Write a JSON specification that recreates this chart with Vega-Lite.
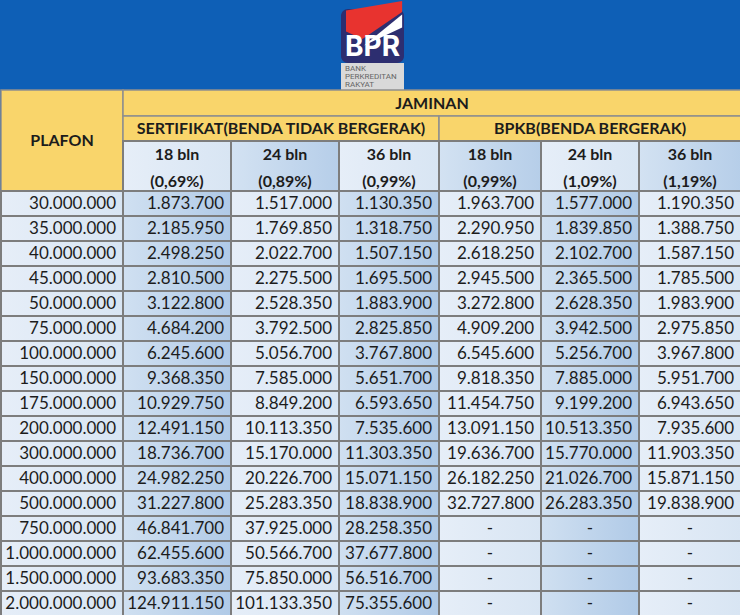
{
  "$schema": "https://vega.github.io/schema/vega-lite/v6.json",
  "width": 740,
  "height": 615,
  "padding": 0,
  "autosize": {"type": "fit", "contains": "padding"},
  "background": "#0e5fb6",
  "config": {"view": {"stroke": null}, "axis": {"disable": true}, "text": {"font": "Lato", "color": "#1c1c1c"}},
  "datasets": {
    "table": [
      {"plafon": "30.000.000", "s18": "1.873.700", "s24": "1.517.000", "s36": "1.130.350", "b18": "1.963.700", "b24": "1.577.000", "b36": "1.190.350"},
      {"plafon": "35.000.000", "s18": "2.185.950", "s24": "1.769.850", "s36": "1.318.750", "b18": "2.290.950", "b24": "1.839.850", "b36": "1.388.750"},
      {"plafon": "40.000.000", "s18": "2.498.250", "s24": "2.022.700", "s36": "1.507.150", "b18": "2.618.250", "b24": "2.102.700", "b36": "1.587.150"},
      {"plafon": "45.000.000", "s18": "2.810.500", "s24": "2.275.500", "s36": "1.695.500", "b18": "2.945.500", "b24": "2.365.500", "b36": "1.785.500"},
      {"plafon": "50.000.000", "s18": "3.122.800", "s24": "2.528.350", "s36": "1.883.900", "b18": "3.272.800", "b24": "2.628.350", "b36": "1.983.900"},
      {"plafon": "75.000.000", "s18": "4.684.200", "s24": "3.792.500", "s36": "2.825.850", "b18": "4.909.200", "b24": "3.942.500", "b36": "2.975.850"},
      {"plafon": "100.000.000", "s18": "6.245.600", "s24": "5.056.700", "s36": "3.767.800", "b18": "6.545.600", "b24": "5.256.700", "b36": "3.967.800"},
      {"plafon": "150.000.000", "s18": "9.368.350", "s24": "7.585.000", "s36": "5.651.700", "b18": "9.818.350", "b24": "7.885.000", "b36": "5.951.700"},
      {"plafon": "175.000.000", "s18": "10.929.750", "s24": "8.849.200", "s36": "6.593.650", "b18": "11.454.750", "b24": "9.199.200", "b36": "6.943.650"},
      {"plafon": "200.000.000", "s18": "12.491.150", "s24": "10.113.350", "s36": "7.535.600", "b18": "13.091.150", "b24": "10.513.350", "b36": "7.935.600"},
      {"plafon": "300.000.000", "s18": "18.736.700", "s24": "15.170.000", "s36": "11.303.350", "b18": "19.636.700", "b24": "15.770.000", "b36": "11.903.350"},
      {"plafon": "400.000.000", "s18": "24.982.250", "s24": "20.226.700", "s36": "15.071.150", "b18": "26.182.250", "b24": "21.026.700", "b36": "15.871.150"},
      {"plafon": "500.000.000", "s18": "31.227.800", "s24": "25.283.350", "s36": "18.838.900", "b18": "32.727.800", "b24": "26.283.350", "b36": "19.838.900"},
      {"plafon": "750.000.000", "s18": "46.841.700", "s24": "37.925.000", "s36": "28.258.350", "b18": "-", "b24": "-", "b36": "-"},
      {"plafon": "1.000.000.000", "s18": "62.455.600", "s24": "50.566.700", "s36": "37.677.800", "b18": "-", "b24": "-", "b36": "-"},
      {"plafon": "1.500.000.000", "s18": "93.683.350", "s24": "75.850.000", "s36": "56.516.700", "b18": "-", "b24": "-", "b36": "-"},
      {"plafon": "2.000.000.000", "s18": "124.911.150", "s24": "101.133.350", "s36": "75.355.600", "b18": "-", "b24": "-", "b36": "-"}
    ],
    "cols": [
      {"key": "plafon", "col": 0, "col2": 1, "mid": 0.5},
      {"key": "s18", "col": 1, "col2": 2, "mid": 1.5},
      {"key": "s24", "col": 2, "col2": 3, "mid": 2.5},
      {"key": "s36", "col": 3, "col2": 4, "mid": 3.5},
      {"key": "b18", "col": 4, "col2": 5, "mid": 4.5},
      {"key": "b24", "col": 5, "col2": 6, "mid": 5.5},
      {"key": "b36", "col": 6, "col2": 7, "mid": 6.5}
    ],
    "heads": [
      {"key": "s18", "label": "18 bln\n(0,69%)"},
      {"key": "s24", "label": "24 bln\n(0,89%)"},
      {"key": "s36", "label": "36 bln\n(0,99%)"},
      {"key": "b18", "label": "18 bln\n(0,99%)"},
      {"key": "b24", "label": "24 bln\n(1,09%)"},
      {"key": "b36", "label": "36 bln\n(1,19%)"}
    ]
  },
  "layer": [
    {
      "data": {"values": [{"name": "logo"}]},
      "layer": [
        {
          "mark": {"type": "rect", "color": "#2d2e70", "cornerRadius": 7},
          "encoding": {
            "x": {"datum": 3.02, "type": "quantitative", "scale": {"domain": [0, 1, 2, 3, 4, 5, 6, 7], "range": [0, 122, 230, 338, 438, 540, 638, 740], "nice": false, "zero": false}},
            "x2": {"datum": 3.65},
            "y": {"datum": -10.6, "type": "quantitative", "scale": {"domain": [-11.4, -2.5, -1.5, -0.5, 0.5, 17.5], "range": [0, 89, 115, 140, 190, 615], "nice": false, "zero": false}},
            "y2": {"datum": -5.2}
          }
        },
        {
          "mark": {"type": "rect", "color": "#d9d9d9"},
          "encoding": {
            "x": {"datum": 3.02, "type": "quantitative", "scale": {"domain": [0, 1, 2, 3, 4, 5, 6, 7], "range": [0, 122, 230, 338, 438, 540, 638, 740], "nice": false, "zero": false}},
            "x2": {"datum": 3.65},
            "y": {"datum": -5.2, "type": "quantitative", "scale": {"domain": [-11.4, -2.5, -1.5, -0.5, 0.5, 17.5], "range": [0, 89, 115, 140, 190, 615], "nice": false, "zero": false}},
            "y2": {"datum": -2.5}
          }
        },
        {
          "mark": {"type": "point", "filled": true, "opacity": 1, "strokeWidth": 0, "color": "#e8332f", "size": 3600, "shape": "M-0.9,-0.35L0.97,-0.67L0.97,-0.3L-0.35,0.6L-0.9,0.35Z"},
          "encoding": {
            "x": {"datum": 3.34, "type": "quantitative", "scale": {"domain": [0, 1, 2, 3, 4, 5, 6, 7], "range": [0, 122, 230, 338, 438, 540, 638, 740], "nice": false, "zero": false}},
            "y": {"datum": -9.4, "type": "quantitative", "scale": {"domain": [-11.4, -2.5, -1.5, -0.5, 0.5, 17.5], "range": [0, 89, 115, 140, 190, 615], "nice": false, "zero": false}}
          }
        },
        {
          "mark": {"type": "point", "filled": true, "opacity": 1, "strokeWidth": 0, "color": "#ffffff", "size": 3600, "shape": "M-0.3,0.82L0.97,-0.22L0.97,0.22Z"},
          "encoding": {
            "x": {"datum": 3.34, "type": "quantitative", "scale": {"domain": [0, 1, 2, 3, 4, 5, 6, 7], "range": [0, 122, 230, 338, 438, 540, 638, 740], "nice": false, "zero": false}},
            "y": {"datum": -9.4, "type": "quantitative", "scale": {"domain": [-11.4, -2.5, -1.5, -0.5, 0.5, 17.5], "range": [0, 89, 115, 140, 190, 615], "nice": false, "zero": false}}
          }
        },
        {
          "mark": {"type": "text", "font": "Inter", "fontWeight": "bold", "fontSize": 28, "color": "#ffffff", "align": "center", "baseline": "alphabetic"},
          "encoding": {
            "x": {"datum": 3.335, "type": "quantitative", "scale": {"domain": [0, 1, 2, 3, 4, 5, 6, 7], "range": [0, 122, 230, 338, 438, 540, 638, 740], "nice": false, "zero": false}},
            "y": {"datum": -5.9, "type": "quantitative", "scale": {"domain": [-11.4, -2.5, -1.5, -0.5, 0.5, 17.5], "range": [0, 89, 115, 140, 190, 615], "nice": false, "zero": false}},
            "text": {"value": "BPR"}
          }
        },
        {
          "mark": {"type": "text", "font": "Roboto", "fontSize": 8, "color": "#666666", "align": "left", "baseline": "top", "lineBreak": "\n", "lineHeight": 8},
          "encoding": {
            "x": {"datum": 3.06, "type": "quantitative", "scale": {"domain": [0, 1, 2, 3, 4, 5, 6, 7], "range": [0, 122, 230, 338, 438, 540, 638, 740], "nice": false, "zero": false}},
            "y": {"datum": -5.05, "type": "quantitative", "scale": {"domain": [-11.4, -2.5, -1.5, -0.5, 0.5, 17.5], "range": [0, 89, 115, 140, 190, 615], "nice": false, "zero": false}},
            "text": {"value": "BANK\nPERKREDITAN\nRAKYAT"}
          }
        }
      ]
    },
    {
      "data": {"values": [{"label": "PLAFON"}]},
      "layer": [
        {
          "mark": {"type": "rect", "color": "#f9d56b", "stroke": "#8f8f8f", "strokeWidth": 1.5},
          "encoding": {
            "x": {"datum": 0, "type": "quantitative", "scale": {"domain": [0, 1, 2, 3, 4, 5, 6, 7], "range": [0, 122, 230, 338, 438, 540, 638, 740], "nice": false, "zero": false}},
            "x2": {"datum": 1},
            "y": {"datum": -2.5, "type": "quantitative", "scale": {"domain": [-11.4, -2.5, -1.5, -0.5, 0.5, 17.5], "range": [0, 89, 115, 140, 190, 615], "nice": false, "zero": false}},
            "y2": {"datum": 0.5}
          }
        },
        {
          "mark": {"type": "text", "fontWeight": "bold", "fontSize": 16, "align": "center", "baseline": "middle"},
          "encoding": {
            "x": {"datum": 0.5, "type": "quantitative", "scale": {"domain": [0, 1, 2, 3, 4, 5, 6, 7], "range": [0, 122, 230, 338, 438, 540, 638, 740], "nice": false, "zero": false}},
            "y": {"datum": -0.5, "type": "quantitative", "scale": {"domain": [-11.4, -2.5, -1.5, -0.5, 0.5, 17.5], "range": [0, 89, 115, 140, 190, 615], "nice": false, "zero": false}},
            "text": {"field": "label"}
          }
        }
      ]
    },
    {
      "data": {"values": [{"label": "JAMINAN"}]},
      "layer": [
        {
          "mark": {"type": "rect", "color": "#f9d56b", "stroke": "#8f8f8f", "strokeWidth": 1.5},
          "encoding": {
            "x": {"datum": 1, "type": "quantitative", "scale": {"domain": [0, 1, 2, 3, 4, 5, 6, 7], "range": [0, 122, 230, 338, 438, 540, 638, 740], "nice": false, "zero": false}},
            "x2": {"datum": 7},
            "y": {"datum": -2.5, "type": "quantitative", "scale": {"domain": [-11.4, -2.5, -1.5, -0.5, 0.5, 17.5], "range": [0, 89, 115, 140, 190, 615], "nice": false, "zero": false}},
            "y2": {"datum": -1.5}
          }
        },
        {
          "mark": {"type": "text", "fontWeight": "bold", "fontSize": 16, "align": "center", "baseline": "middle"},
          "encoding": {
            "x": {"datum": 3.93, "type": "quantitative", "scale": {"domain": [0, 1, 2, 3, 4, 5, 6, 7], "range": [0, 122, 230, 338, 438, 540, 638, 740], "nice": false, "zero": false}},
            "y": {"datum": -1.98, "type": "quantitative", "scale": {"domain": [-11.4, -2.5, -1.5, -0.5, 0.5, 17.5], "range": [0, 89, 115, 140, 190, 615], "nice": false, "zero": false}},
            "text": {"field": "label"}
          }
        }
      ]
    },
    {
      "data": {"values": [{"label": "SERTIFIKAT(BENDA TIDAK BERGERAK)"}]},
      "layer": [
        {
          "mark": {"type": "rect", "color": "#f9d56b", "stroke": "#8f8f8f", "strokeWidth": 1.5},
          "encoding": {
            "x": {"datum": 1, "type": "quantitative", "scale": {"domain": [0, 1, 2, 3, 4, 5, 6, 7], "range": [0, 122, 230, 338, 438, 540, 638, 740], "nice": false, "zero": false}},
            "x2": {"datum": 4},
            "y": {"datum": -1.5, "type": "quantitative", "scale": {"domain": [-11.4, -2.5, -1.5, -0.5, 0.5, 17.5], "range": [0, 89, 115, 140, 190, 615], "nice": false, "zero": false}},
            "y2": {"datum": -0.5}
          }
        },
        {
          "mark": {"type": "text", "fontWeight": "bold", "fontSize": 16, "align": "center", "baseline": "middle"},
          "encoding": {
            "x": {"datum": 2.463, "type": "quantitative", "scale": {"domain": [0, 1, 2, 3, 4, 5, 6, 7], "range": [0, 122, 230, 338, 438, 540, 638, 740], "nice": false, "zero": false}},
            "y": {"datum": -0.98, "type": "quantitative", "scale": {"domain": [-11.4, -2.5, -1.5, -0.5, 0.5, 17.5], "range": [0, 89, 115, 140, 190, 615], "nice": false, "zero": false}},
            "text": {"field": "label"}
          }
        }
      ]
    },
    {
      "data": {"values": [{"label": "BPKB(BENDA BERGERAK)"}]},
      "layer": [
        {
          "mark": {"type": "rect", "color": "#f9d56b", "stroke": "#8f8f8f", "strokeWidth": 1.5},
          "encoding": {
            "x": {"datum": 4, "type": "quantitative", "scale": {"domain": [0, 1, 2, 3, 4, 5, 6, 7], "range": [0, 122, 230, 338, 438, 540, 638, 740], "nice": false, "zero": false}},
            "x2": {"datum": 7},
            "y": {"datum": -1.5, "type": "quantitative", "scale": {"domain": [-11.4, -2.5, -1.5, -0.5, 0.5, 17.5], "range": [0, 89, 115, 140, 190, 615], "nice": false, "zero": false}},
            "y2": {"datum": -0.5}
          }
        },
        {
          "mark": {"type": "text", "fontWeight": "bold", "fontSize": 16, "align": "center", "baseline": "middle"},
          "encoding": {
            "x": {"datum": 5.5, "type": "quantitative", "scale": {"domain": [0, 1, 2, 3, 4, 5, 6, 7], "range": [0, 122, 230, 338, 438, 540, 638, 740], "nice": false, "zero": false}},
            "y": {"datum": -0.98, "type": "quantitative", "scale": {"domain": [-11.4, -2.5, -1.5, -0.5, 0.5, 17.5], "range": [0, 89, 115, 140, 190, 615], "nice": false, "zero": false}},
            "text": {"field": "label"}
          }
        }
      ]
    },
    {
      "data": {"name": "heads"},
      "transform": [
        {"lookup": "key", "from": {"data": {"name": "cols"}, "key": "key", "fields": ["col", "col2", "mid"]}}
      ],
      "layer": [
        {
          "transform": [{"filter": {"field": "key", "oneOf": ["s18", "s36", "b24"]}}],
          "mark": {"type": "rect", "stroke": "#7d7d7d", "strokeWidth": 2, "fill": {"gradient": "linear", "x1": 0, "y1": 0, "x2": 1, "y2": 0, "stops": [{"offset": 0, "color": "#e6eef8"}, {"offset": 1, "color": "#d8e5f3"}]}},
          "encoding": {
            "x": {"field": "col", "type": "quantitative", "scale": {"domain": [0, 1, 2, 3, 4, 5, 6, 7], "range": [0, 122, 230, 338, 438, 540, 638, 740], "nice": false, "zero": false}},
            "x2": {"field": "col2"},
            "y": {"datum": -0.5, "type": "quantitative", "scale": {"domain": [-11.4, -2.5, -1.5, -0.5, 0.5, 17.5], "range": [0, 89, 115, 140, 190, 615], "nice": false, "zero": false}},
            "y2": {"datum": 0.5}
          }
        },
        {
          "transform": [{"filter": {"field": "key", "oneOf": ["s24", "b18", "b36"]}}],
          "mark": {"type": "rect", "stroke": "#7d7d7d", "strokeWidth": 2, "fill": {"gradient": "linear", "x1": 0, "y1": 0, "x2": 1, "y2": 0, "stops": [{"offset": 0, "color": "#d3e2f2"}, {"offset": 1, "color": "#b6cee9"}]}},
          "encoding": {
            "x": {"field": "col", "type": "quantitative", "scale": {"domain": [0, 1, 2, 3, 4, 5, 6, 7], "range": [0, 122, 230, 338, 438, 540, 638, 740], "nice": false, "zero": false}},
            "x2": {"field": "col2"},
            "y": {"datum": -0.5, "type": "quantitative", "scale": {"domain": [-11.4, -2.5, -1.5, -0.5, 0.5, 17.5], "range": [0, 89, 115, 140, 190, 615], "nice": false, "zero": false}},
            "y2": {"datum": 0.5}
          }
        },
        {
          "mark": {"type": "text", "fontWeight": "bold", "fontSize": 16, "align": "center", "baseline": "middle", "lineBreak": "\n", "lineHeight": 27},
          "encoding": {
            "x": {"field": "mid", "type": "quantitative", "scale": {"domain": [0, 1, 2, 3, 4, 5, 6, 7], "range": [0, 122, 230, 338, 438, 540, 638, 740], "nice": false, "zero": false}},
            "y": {"datum": -0.22, "type": "quantitative", "scale": {"domain": [-11.4, -2.5, -1.5, -0.5, 0.5, 17.5], "range": [0, 89, 115, 140, 190, 615], "nice": false, "zero": false}},
            "text": {"field": "label"}
          }
        }
      ]
    },
    {
      "data": {"name": "table"},
      "transform": [
        {"window": [{"op": "row_number", "as": "row"}]},
        {"fold": ["plafon", "s18", "s24", "s36", "b18", "b24", "b36"], "as": ["key", "value"]},
        {"lookup": "key", "from": {"data": {"name": "cols"}, "key": "key", "fields": ["col", "col2", "mid"]}}
      ],
      "layer": [
        {
          "transform": [{"filter": {"field": "key", "oneOf": ["plafon", "s24", "b18", "b36"]}}],
          "mark": {"type": "rect", "height": 25, "stroke": "#7d7d7d", "strokeWidth": 2, "fill": {"gradient": "linear", "x1": 0, "y1": 0, "x2": 1, "y2": 0, "stops": [{"offset": 0, "color": "#e6eef8"}, {"offset": 1, "color": "#d8e5f3"}]}},
          "encoding": {
            "x": {"field": "col", "type": "quantitative", "scale": {"domain": [0, 1, 2, 3, 4, 5, 6, 7], "range": [0, 122, 230, 338, 438, 540, 638, 740], "nice": false, "zero": false}},
            "x2": {"field": "col2"},
            "y": {"field": "row", "type": "quantitative", "scale": {"domain": [-11.4, -2.5, -1.5, -0.5, 0.5, 17.5], "range": [0, 89, 115, 140, 190, 615], "nice": false, "zero": false}}
          }
        },
        {
          "transform": [{"filter": {"field": "key", "oneOf": ["s18", "s36", "b24"]}}],
          "mark": {"type": "rect", "height": 25, "stroke": "#7d7d7d", "strokeWidth": 2, "fill": {"gradient": "linear", "x1": 0, "y1": 0, "x2": 1, "y2": 0, "stops": [{"offset": 0, "color": "#d0e0f1"}, {"offset": 1, "color": "#b0cae7"}]}},
          "encoding": {
            "x": {"field": "col", "type": "quantitative", "scale": {"domain": [0, 1, 2, 3, 4, 5, 6, 7], "range": [0, 122, 230, 338, 438, 540, 638, 740], "nice": false, "zero": false}},
            "x2": {"field": "col2"},
            "y": {"field": "row", "type": "quantitative", "scale": {"domain": [-11.4, -2.5, -1.5, -0.5, 0.5, 17.5], "range": [0, 89, 115, 140, 190, 615], "nice": false, "zero": false}}
          }
        },
        {
          "transform": [{"filter": "datum.value !== '-'"}],
          "mark": {"type": "text", "fontSize": 17, "align": "right", "baseline": "middle", "dx": -7},
          "encoding": {
            "x": {"field": "col2", "type": "quantitative", "scale": {"domain": [0, 1, 2, 3, 4, 5, 6, 7], "range": [0, 122, 230, 338, 438, 540, 638, 740], "nice": false, "zero": false}},
            "y": {"field": "row", "type": "quantitative", "scale": {"domain": [-11.4, -2.5, -1.5, -0.5, 0.5, 17.5], "range": [0, 89, 115, 140, 190, 615], "nice": false, "zero": false}},
            "text": {"field": "value"}
          }
        },
        {
          "transform": [{"filter": "datum.value === '-'"}],
          "mark": {"type": "text", "fontSize": 17, "align": "center", "baseline": "middle"},
          "encoding": {
            "x": {"field": "mid", "type": "quantitative", "scale": {"domain": [0, 1, 2, 3, 4, 5, 6, 7], "range": [0, 122, 230, 338, 438, 540, 638, 740], "nice": false, "zero": false}},
            "y": {"field": "row", "type": "quantitative", "scale": {"domain": [-11.4, -2.5, -1.5, -0.5, 0.5, 17.5], "range": [0, 89, 115, 140, 190, 615], "nice": false, "zero": false}},
            "text": {"field": "value"}
          }
        }
      ]
    }
  ]
}
